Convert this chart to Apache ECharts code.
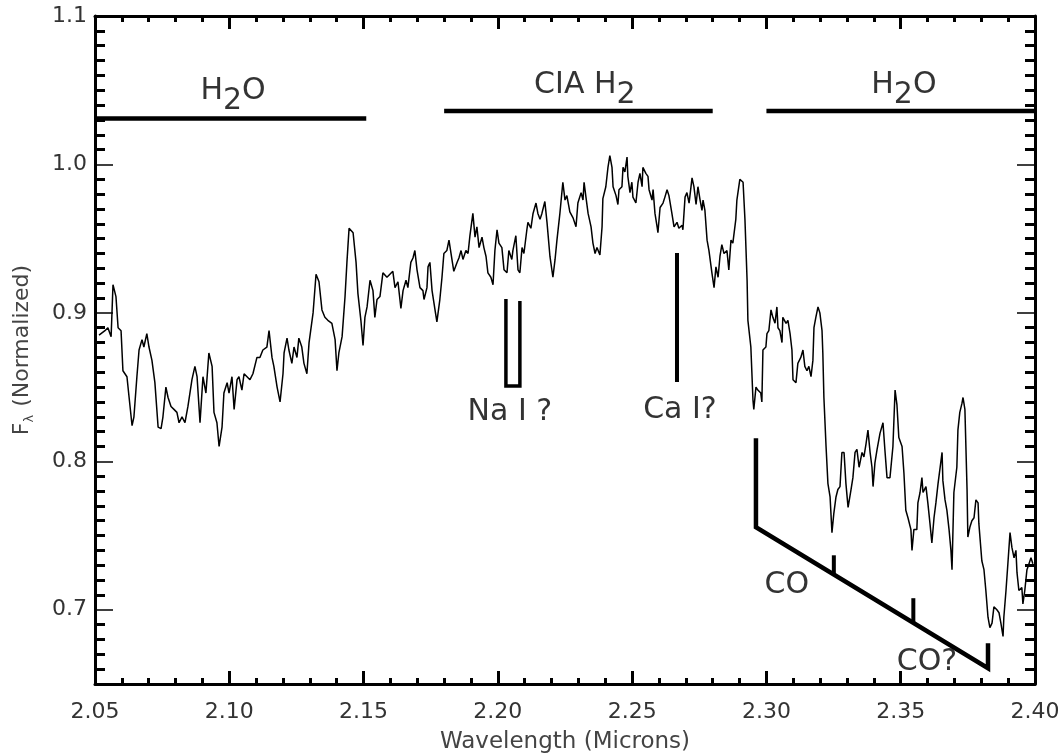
<!DOCTYPE html>
<html>
<head>
<meta charset="utf-8">
<script src="https://cdn.jsdelivr.net/npm/echarts@6/dist/echarts.min.js"></script>
<style>
  html, body { margin: 0; padding: 0; background: #fff; }
  #chart { width: 1060px; height: 754px; }
</style>
</head>
<body>
<div id="chart"></div>
<script>
// K-band spectrum, wavelength in microns
const wavelength = [
  2.0515,2.0537,2.0548,2.0560,2.0567,2.0578,2.0586,2.0597,2.0604,2.0619,
  2.0627,2.0638,2.0645,2.0656,2.0664,2.0675,2.0682,2.0693,2.0701,2.0712,
  2.0723,2.0735,2.0746,2.0753,2.0764,2.0772,2.0783,2.0794,2.0805,2.0813,
  2.0824,2.0835,2.0846,2.0861,2.0872,2.0880,2.0891,2.0902,2.0913,2.0924,
  2.0936,2.0943,2.0954,2.0962,2.0973,2.0980,2.0992,2.0999,2.1010,2.1018,
  2.1029,2.1036,2.1047,2.1055,2.1066,2.1077,2.1088,2.1103,2.1114,2.1125,
  2.1140,2.1148,2.1159,2.1166,2.1178,2.1189,2.1200,2.1204,2.1215,2.1222,
  2.1233,2.1241,2.1252,2.1259,2.1270,2.1278,2.1289,2.1297,2.1312,2.1323,
  2.1334,2.1345,2.1356,2.1367,2.1382,2.1394,2.1401,2.1408,2.1420,2.1431,
  2.1438,2.1446,2.1461,2.1472,2.1479,2.1490,2.1498,2.1505,2.1513,2.1524,
  2.1535,2.1542,2.1550,2.1561,2.1572,2.1587,2.1598,2.1609,2.1617,2.1628,
  2.1639,2.1647,2.1658,2.1665,2.1676,2.1684,2.1691,2.1699,2.1710,2.1721,
  2.1725,2.1736,2.1740,2.1747,2.1755,2.1766,2.1773,2.1784,2.1792,2.1799,
  2.1810,2.1818,2.1829,2.1836,2.1848,2.1855,2.1863,2.1870,2.1881,2.1889,
  2.1896,2.1907,2.1915,2.1922,2.1930,2.1941,2.1948,2.1956,2.1963,2.1974,
  2.1982,2.1989,2.1997,2.2004,2.2015,2.2023,2.2034,2.2041,2.2052,2.2056,
  2.2067,2.2075,2.2082,2.2090,2.2097,2.2108,2.2112,2.2123,2.2131,2.2142,
  2.2149,2.2157,2.2164,2.2175,2.2183,2.2194,2.2205,2.2213,2.2220,2.2231,
  2.2242,2.2250,2.2257,2.2268,2.2280,2.2291,2.2298,2.2310,2.2317,2.2321,
  2.2328,2.2336,2.2347,2.2354,2.2362,2.2369,2.2380,2.2388,2.2391,2.2402,
  2.2410,2.2417,2.2425,2.2429,2.2440,2.2447,2.2451,2.2462,2.2466,2.2473,
  2.2481,2.2484,2.2492,2.2499,2.2503,2.2514,2.2522,2.2529,2.2537,2.2540,
  2.2551,2.2559,2.2563,2.2574,2.2578,2.2585,2.2593,2.2596,2.2604,2.2615,
  2.2622,2.2630,2.2637,2.2648,2.2656,2.2667,2.2674,2.2686,2.2689,2.2697,
  2.2704,2.2712,2.2723,2.2730,2.2738,2.2745,2.2753,2.2760,2.2764,2.2771,
  2.2779,2.2786,2.2797,2.2805,2.2812,2.2820,2.2827,2.2834,2.2842,2.2853,
  2.2860,2.2868,2.2875,2.2886,2.2890,2.2901,2.2913,2.2920,2.2928,2.2931,
  2.2942,2.2950,2.2953,2.2961,2.2968,2.2979,2.2983,2.2987,2.2998,2.3002,
  2.3009,2.3017,2.3024,2.3032,2.3039,2.3043,2.3050,2.3058,2.3061,2.3073,
  2.3080,2.3088,2.3095,2.3099,2.3110,2.3117,2.3128,2.3136,2.3143,2.3151,
  2.3158,2.3166,2.3173,2.3177,2.3184,2.3192,2.3199,2.3207,2.3210,2.3214,
  2.3222,2.3229,2.3237,2.3244,2.3251,2.3259,2.3266,2.3274,2.3281,2.3289,
  2.3296,2.3304,2.3315,2.3322,2.3330,2.3337,2.3345,2.3356,2.3363,2.3371,
  2.3378,2.3386,2.3393,2.3397,2.3404,2.3412,2.3423,2.3434,2.3441,2.3449,
  2.3460,2.3471,2.3479,2.3486,2.3493,2.3505,2.3512,2.3519,2.3527,2.3538,
  2.3542,2.3549,2.3560,2.3564,2.3572,2.3579,2.3583,2.3594,2.3601,2.3609,
  2.3616,2.3624,2.3631,2.3639,2.3646,2.3654,2.3657,2.3665,2.3672,2.3680,
  2.3687,2.3691,2.3698,2.3709,2.3713,2.3720,2.3728,2.3732,2.3739,2.3747,
  2.3750,2.3758,2.3765,2.3773,2.3780,2.3788,2.3791,2.3802,2.3810,2.3817,
  2.3825,2.3832,2.3840,2.3847,2.3858,2.3866,2.3873,2.3881,2.3884,2.3892,
  2.3899,2.3907,2.3914,2.3922,2.3929,2.3933,2.3940,2.3951,2.3955,2.3962,
  2.3970,2.3974,2.3985,2.3992
];

// Normalized flux F_lambda at each wavelength
const flux = [
  0.885,0.888,0.890,0.884,0.919,0.911,0.890,0.888,0.861,0.857,
  0.843,0.824,0.830,0.857,0.875,0.882,0.877,0.886,0.877,0.868,
  0.853,0.823,0.822,0.830,0.850,0.843,0.837,0.835,0.833,0.826,
  0.830,0.826,0.837,0.855,0.864,0.857,0.826,0.857,0.846,0.873,
  0.864,0.833,0.826,0.810,0.823,0.846,0.853,0.846,0.857,0.835,
  0.855,0.857,0.848,0.859,0.857,0.855,0.859,0.870,0.870,0.875,
  0.877,0.888,0.870,0.864,0.850,0.840,0.859,0.873,0.883,0.875,
  0.866,0.877,0.870,0.883,0.877,0.866,0.859,0.880,0.900,0.926,
  0.921,0.902,0.897,0.895,0.893,0.882,0.861,0.873,0.884,0.911,
  0.934,0.957,0.954,0.934,0.913,0.895,0.878,0.897,0.904,0.922,
  0.915,0.897,0.909,0.911,0.927,0.924,0.926,0.928,0.917,0.921,
  0.903,0.915,0.922,0.917,0.934,0.937,0.942,0.929,0.917,0.915,
  0.909,0.917,0.931,0.934,0.915,0.902,0.894,0.909,0.924,0.940,
  0.942,0.949,0.936,0.928,0.934,0.937,0.942,0.936,0.942,0.940,
  0.952,0.967,0.951,0.958,0.944,0.951,0.944,0.938,0.927,0.924,
  0.919,0.942,0.956,0.947,0.944,0.929,0.927,0.942,0.936,0.942,
  0.952,0.929,0.927,0.944,0.940,0.956,0.961,0.957,0.967,0.974,
  0.967,0.963,0.967,0.975,0.961,0.938,0.924,0.936,0.949,0.967,
  0.988,0.976,0.979,0.968,0.964,0.958,0.974,0.981,0.976,0.988,
  0.978,0.967,0.958,0.947,0.940,0.944,0.939,0.958,0.977,0.985,
  0.998,1.006,0.998,0.985,0.979,0.973,0.983,0.985,0.998,0.995,
  1.005,0.992,0.981,0.988,0.978,0.974,0.988,0.994,0.985,0.998,
  0.994,0.992,0.983,0.976,0.983,0.967,0.958,0.954,0.971,0.974,
  0.978,0.983,0.979,0.967,0.958,0.961,0.957,0.959,0.956,0.978,
  0.981,0.974,0.991,0.985,0.973,0.985,0.976,0.969,0.976,0.969,
  0.949,0.942,0.927,0.917,0.931,0.924,0.938,0.946,0.940,0.942,
  0.929,0.949,0.947,0.963,0.976,0.990,0.988,0.963,0.922,0.895,
  0.877,0.841,0.835,0.850,0.848,0.846,0.840,0.875,0.877,0.886,
  0.888,0.902,0.897,0.893,0.904,0.890,0.888,0.880,0.897,0.893,
  0.895,0.886,0.875,0.855,0.853,0.866,0.870,0.875,0.864,0.861,
  0.864,0.857,0.868,0.890,0.897,0.904,0.900,0.888,0.873,0.843,
  0.810,0.785,0.776,0.752,0.765,0.776,0.781,0.783,0.806,0.806,
  0.785,0.769,0.781,0.789,0.806,0.808,0.796,0.806,0.803,0.812,
  0.821,0.806,0.796,0.783,0.799,0.808,0.819,0.826,0.808,0.789,
  0.789,0.810,0.848,0.838,0.816,0.810,0.792,0.767,0.762,0.754,
  0.740,0.754,0.754,0.772,0.779,0.789,0.779,0.783,0.772,0.758,
  0.745,0.762,0.772,0.785,0.785,0.806,0.787,0.774,0.767,0.754,
  0.740,0.727,0.779,0.796,0.821,0.833,0.839,0.843,0.835,0.781,
  0.749,0.756,0.760,0.762,0.774,0.772,0.758,0.733,0.727,0.713,
  0.695,0.688,0.691,0.702,0.700,0.698,0.691,0.682,0.695,0.713,
  0.731,0.752,0.742,0.735,0.740,0.725,0.713,0.715,0.704,0.713,
  0.727,0.729,0.735,0.731
];

// Axis ranges and labelled ticks
const xRange = [2.05, 2.40];
const xStep = 0.05;
const yRange = [0.65, 1.1];
const yTickValues = [0.7, 0.8, 0.9, 1.0, 1.1];

// Broad absorption bands drawn as bars across the top
const bandNames = ['H2O', 'CIA H2', 'H2O'];
const bandStart = [2.05, 2.18, 2.30];
const bandEnd = [2.151, 2.28, 2.40];
const bandLevel = [1.031, 1.036, 1.036];
const bandLabelX = [2.1014, 2.2324, 2.3512];
const bandLabelY = [1.0495, 1.0535, 1.0535];

// Atomic line markers
const naLines = [2.2030, 2.2082];
const naTop = [0.9093, 0.9080];
const naBottom = 0.8507;
const caLine = 2.2667;
const caTop = 0.9403;
const caBottom = 0.8534;

// CO bandhead ladder
const coHeads = [2.2961, 2.3251, 2.3547, 2.3825];
const coTickTop = [0.8156, 0.7367, 0.7078, 0.6774];
const coLadderY = [0.7556, 0.6606];

// Feature labels
const featureLabels = ['Na I ?', 'Ca I?', 'CO', 'CO?'];
const featureLabelX = [2.2045, 2.2678, 2.3076, 2.3598];
const featureLabelY = [0.8331, 0.8345, 0.7165, 0.6646];

const FONT = 'DejaVu Sans';
const INK = '#000';

// minor y ticks every 0.01, skipping the labelled ones
const yMinorTicks = [];
for (let i = Math.round(yRange[0] * 100) + 1; i < Math.round(yRange[1] * 100); i++) {
  if (i % 10 !== 0) yMinorTicks.push(i / 100);
}

function ladderY(x) {
  const t = (x - coHeads[0]) / (coHeads[coHeads.length - 1] - coHeads[0]);
  return coLadderY[0] + t * (coLadderY[1] - coLadderY[0]);
}

function segment(points, width) {
  return {
    type: 'line',
    data: points,
    showSymbol: false,
    symbol: 'none',
    silent: true,
    animation: false,
    lineStyle: { color: INK, width: width, cap: 'butt', join: 'miter' },
    z: 3
  };
}

// chemical formula with the digits set lower
function formula(name) {
  return '{a|' + name.replace(/(\d)/g, '}{s|$1}{a|') + '}';
}

const series = [];

series.push({
  type: 'line',
  data: wavelength.map((w, i) => [w, flux[i]]),
  showSymbol: false,
  symbol: 'none',
  animation: false,
  silent: true,
  lineStyle: { color: INK, width: 1.5 },
  z: 2
});

bandNames.forEach((n, i) => {
  series.push(segment([[bandStart[i], bandLevel[i]], [bandEnd[i], bandLevel[i]]], 4.5));
});

series.push(segment([
  [naLines[0], naTop[0]], [naLines[0], naBottom],
  [naLines[1], naBottom], [naLines[1], naTop[1]]
], 3.5));

series.push(segment([[caLine, caTop], [caLine, caBottom]], 4));

series.push(segment([
  [coHeads[0], coTickTop[0]],
  [coHeads[0], coLadderY[0]],
  [coHeads[coHeads.length - 1], coLadderY[1]],
  [coHeads[coHeads.length - 1], coTickTop[coHeads.length - 1]]
], 4.5));
for (let i = 1; i < coHeads.length - 1; i++) {
  series.push(segment([[coHeads[i], coTickTop[i]], [coHeads[i], ladderY(coHeads[i])]], 4));
}

const textBase = { fontFamily: FONT, fontSize: 30, color: '#000' };

series.push({
  type: 'scatter',
  silent: true,
  animation: false,
  symbolSize: 1,
  itemStyle: { color: 'rgba(0,0,0,0)' },
  data: bandNames.map((n, i) => ({ value: [bandLabelX[i], bandLabelY[i]], name: n })),
  label: {
    show: true,
    position: 'inside',
    align: 'center',
    verticalAlign: 'middle',
    formatter: p => formula(p.name),
    rich: {
      a: Object.assign({ lineHeight: 30, verticalAlign: 'top' }, textBase),
      s: Object.assign({ lineHeight: 30, verticalAlign: 'top', padding: [10, 0, 0, 0] }, textBase)
    }
  },
  z: 4
});

series.push({
  type: 'scatter',
  silent: true,
  animation: false,
  symbolSize: 1,
  itemStyle: { color: 'rgba(0,0,0,0)' },
  data: featureLabels.map((n, i) => ({ value: [featureLabelX[i], featureLabelY[i]], name: n })),
  label: Object.assign({
    show: true,
    position: 'inside',
    align: 'center',
    verticalAlign: 'middle',
    formatter: p => p.name
  }, textBase),
  z: 4
});

const tickLabelStyle = { fontFamily: FONT, fontSize: 22, color: '#333' };
const boxLine = { show: true, onZero: false, lineStyle: { color: INK, width: 3 } };

function xAxisDef(pos, withLabels) {
  return {
    type: 'value',
    position: pos,
    min: xRange[0],
    max: xRange[1],
    interval: xStep,
    axisLine: boxLine,
    axisTick: { show: true, inside: true, length: 13, lineStyle: { color: INK, width: 3 } },
    minorTick: { show: true, splitNumber: 5, length: 6, lineStyle: { color: INK, width: 3 } },
    splitLine: { show: false },
    minorSplitLine: { show: false },
    axisLabel: withLabels ? Object.assign({
      show: true, margin: 17, formatter: v => v.toFixed(2),
      showMinLabel: true, showMaxLabel: true
    }, tickLabelStyle) : { show: false },
    name: withLabels ? 'Wavelength (Microns)' : '',
    nameLocation: 'middle',
    nameGap: 47,
    nameTextStyle: { fontFamily: FONT, fontSize: 23, color: '#444' }
  };
}

function yMinorAxis(pos, withLabels) {
  return {
    type: 'value',
    position: pos,
    min: yRange[0],
    max: yRange[1],
    axisLine: boxLine,
    axisTick: { show: true, inside: true, length: 10, customValues: yMinorTicks,
      lineStyle: { color: INK, width: 3 } },
    splitLine: { show: false },
    axisLabel: withLabels ? Object.assign({
      show: true, margin: 8, customValues: yTickValues, formatter: v => v.toFixed(1)
    }, tickLabelStyle) : { show: false },
    name: withLabels ? '{f|F}{l|λ}{t| (Normalized)}' : '',
    nameLocation: 'middle',
    nameGap: 60,
    nameRotate: 90,
    nameTextStyle: {
      rich: {
        f: { fontFamily: FONT, fontSize: 22, color: '#444', lineHeight: 24, verticalAlign: 'top' },
        l: { fontFamily: FONT, fontSize: 13, color: '#444', lineHeight: 14, verticalAlign: 'top',
             padding: [12, 1, 0, 0] },
        t: { fontFamily: FONT, fontSize: 22, color: '#444', lineHeight: 24, verticalAlign: 'top' }
      }
    }
  };
}

function yMajorAxis(pos) {
  return {
    type: 'value',
    position: pos,
    min: yRange[0],
    max: yRange[1],
    axisLine: { show: false },
    axisTick: { show: true, inside: true, length: 18, customValues: yTickValues,
      lineStyle: { color: INK, width: 1.5 } },
    splitLine: { show: false },
    axisLabel: { show: false }
  };
}

const chart = echarts.init(document.getElementById('chart'), null, { renderer: 'canvas' });
chart.setOption({
  animation: false,
  backgroundColor: '#fff',
  grid: { left: 95, right: 25, top: 16, bottom: 70, containLabel: false, outerBoundsMode: 'none' },
  xAxis: [xAxisDef('bottom', true), xAxisDef('top', false)],
  yAxis: [yMinorAxis('left', true), yMajorAxis('left'), yMinorAxis('right', false), yMajorAxis('right')],
  series: series
});
</script>
</body>
</html>
